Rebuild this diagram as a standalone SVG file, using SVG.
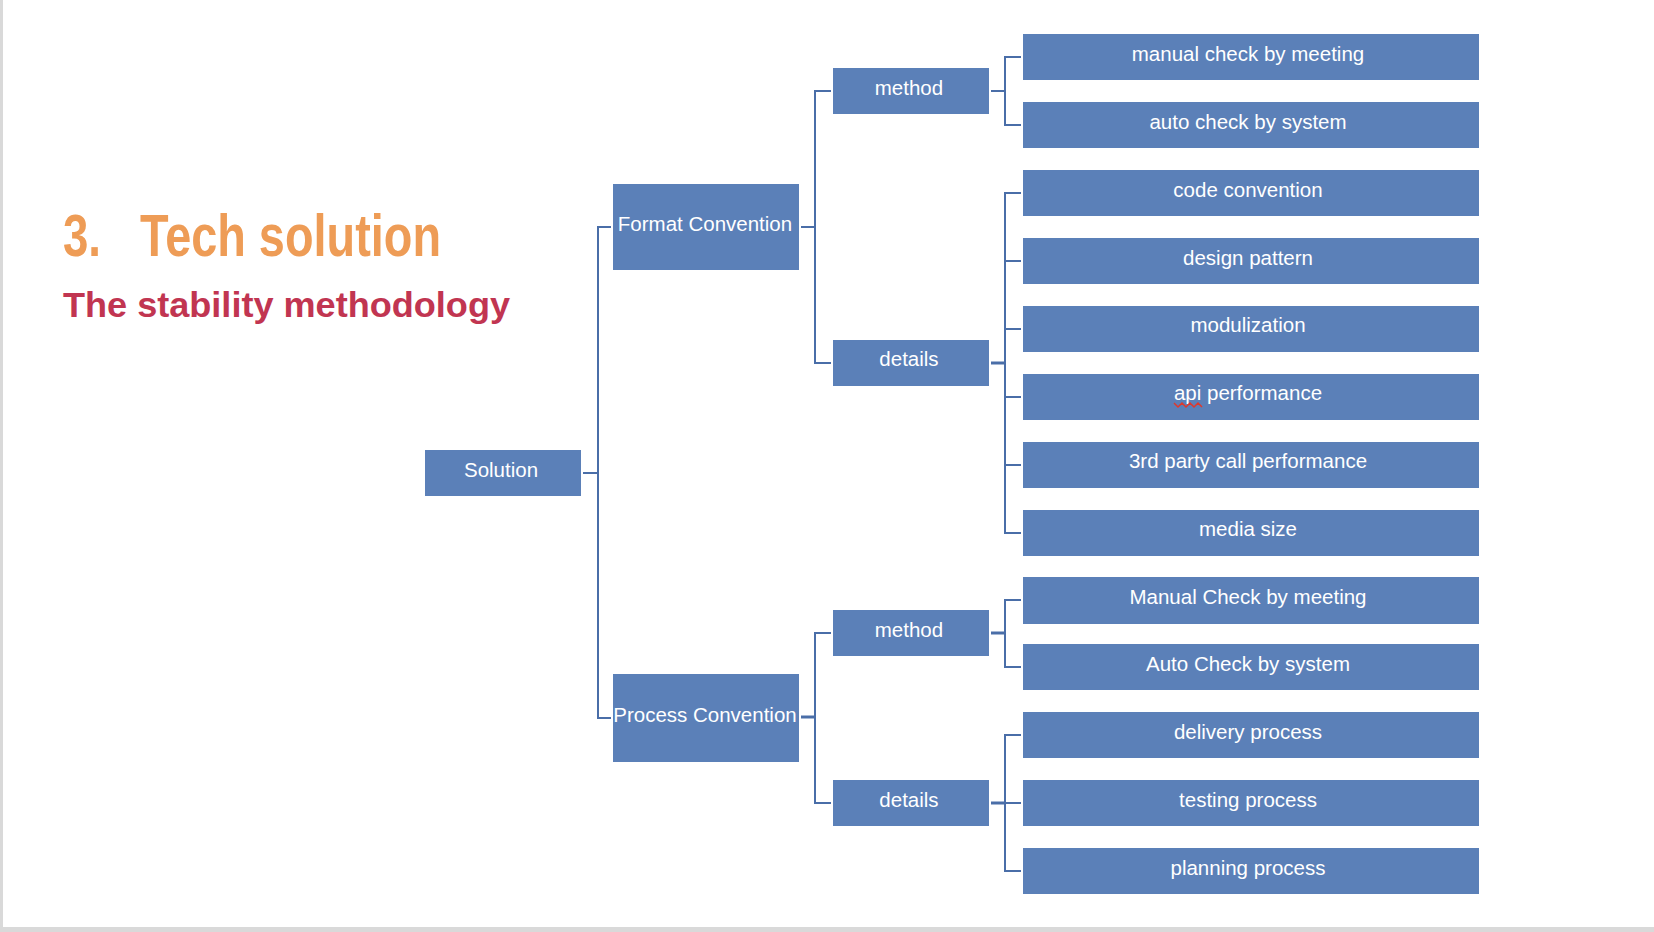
<svg xmlns="http://www.w3.org/2000/svg" width="1654" height="932" viewBox="0 0 1654 932">
<style>
.box{fill:#5b80b8}
.t{font-family:"Liberation Sans",Arial,Helvetica,sans-serif;font-size:20.5px;fill:#ffffff;text-anchor:middle}
.c{fill:none;stroke:#4a6ea8;stroke-width:2;stroke-linejoin:miter}
.ck{fill:none;stroke:#4a6ea8;stroke-width:3}
</style>
<rect x="0" y="0" width="1654" height="932" fill="#ffffff"/>
<rect x="0" y="0" width="3" height="932" fill="#d9d9d9"/>
<rect x="0" y="927" width="1654" height="5" fill="#d9d9d9"/>
<g id="title">
<text x="63" y="256" font-family="'Liberation Sans',Arial,sans-serif" font-weight="bold" font-size="60" fill="#ee9c56" textLength="38" lengthAdjust="spacingAndGlyphs">3.</text>
<text x="140" y="256" font-family="'Liberation Sans',Arial,sans-serif" font-weight="bold" font-size="60" fill="#ee9c56" textLength="301" lengthAdjust="spacingAndGlyphs">Tech solution</text>
<text x="63" y="317" font-family="'Liberation Sans',Arial,sans-serif" font-weight="bold" font-size="35" fill="#c13551" textLength="447" lengthAdjust="spacingAndGlyphs">The stability methodology</text>
</g>
<g id="connectors">
<path class="c" d="M583,473 H598 M611,227 H598 V718 H611"/>
<path class="c" d="M801,227 H815 M831,91 H815 V363 H831"/>
<path class="ck" d="M801,717 H815"/>
<path class="c" d="M831,633 H815 V803 H831"/>
<path class="c" d="M991,91 H1005 M1021,57 H1005 V125 H1021"/>
<path class="ck" d="M991,363 H1005"/>
<path class="c" d="M1021,193 H1005 V533 H1021 M1005,261 H1021 M1005,329 H1021 M1005,397 H1021 M1005,465 H1021"/>
<path class="ck" d="M991,633 H1005"/>
<path class="c" d="M1021,600 H1005 V667 H1021"/>
<path class="ck" d="M991,803 H1005"/>
<path class="c" d="M1021,735 H1005 V871 H1021 M1005,803 H1021"/>
</g>
<g id="solution"><rect class="box" x="425" y="450" width="156" height="46"/><text class="t" x="501" y="477">Solution</text></g>
<g id="format-convention"><rect class="box" x="613" y="184" width="186" height="86"/><text class="t" x="705" y="231">Format Convention</text></g>
<g id="process-convention"><rect class="box" x="613" y="674" width="186" height="88"/><text class="t" x="705" y="722">Process Convention</text></g>
<g id="method-1"><rect class="box" x="833" y="68" width="156" height="46"/><text class="t" x="909" y="95">method</text></g>
<g id="details-1"><rect class="box" x="833" y="340" width="156" height="46"/><text class="t" x="909" y="366">details</text></g>
<g id="method-2"><rect class="box" x="833" y="610" width="156" height="46"/><text class="t" x="909" y="637">method</text></g>
<g id="details-2"><rect class="box" x="833" y="780" width="156" height="46"/><text class="t" x="909" y="807">details</text></g>
<g id="leaf-1"><rect class="box" x="1023" y="34" width="456" height="46"/><text class="t" x="1248" y="61">manual check by meeting</text></g>
<g id="leaf-2"><rect class="box" x="1023" y="102" width="456" height="46"/><text class="t" x="1248" y="129">auto check by system</text></g>
<g id="leaf-3"><rect class="box" x="1023" y="170" width="456" height="46"/><text class="t" x="1248" y="197">code convention</text></g>
<g id="leaf-4"><rect class="box" x="1023" y="238" width="456" height="46"/><text class="t" x="1248" y="265">design pattern</text></g>
<g id="leaf-5"><rect class="box" x="1023" y="306" width="456" height="46"/><text class="t" x="1248" y="332">modulization</text></g>
<g id="leaf-6"><rect class="box" x="1023" y="374" width="456" height="46"/><text class="t" x="1248" y="400">api performance</text><path d="M1174,403 l4,4 l4,-4 l4,4 l4,-4 l4,4 l4,-4 l4,4" fill="none" stroke="#e0382b" stroke-width="1.5"/></g>
<g id="leaf-7"><rect class="box" x="1023" y="442" width="456" height="46"/><text class="t" x="1248" y="468">3rd party call performance</text></g>
<g id="leaf-8"><rect class="box" x="1023" y="510" width="456" height="46"/><text class="t" x="1248" y="536">media size</text></g>
<g id="leaf-9"><rect class="box" x="1023" y="577" width="456" height="47"/><text class="t" x="1248" y="604">Manual Check by meeting</text></g>
<g id="leaf-10"><rect class="box" x="1023" y="644" width="456" height="46"/><text class="t" x="1248" y="671">Auto Check by system</text></g>
<g id="leaf-11"><rect class="box" x="1023" y="712" width="456" height="46"/><text class="t" x="1248" y="739">delivery process</text></g>
<g id="leaf-12"><rect class="box" x="1023" y="780" width="456" height="46"/><text class="t" x="1248" y="807">testing process</text></g>
<g id="leaf-13"><rect class="box" x="1023" y="848" width="456" height="46"/><text class="t" x="1248" y="875">planning process</text></g>
</svg>
